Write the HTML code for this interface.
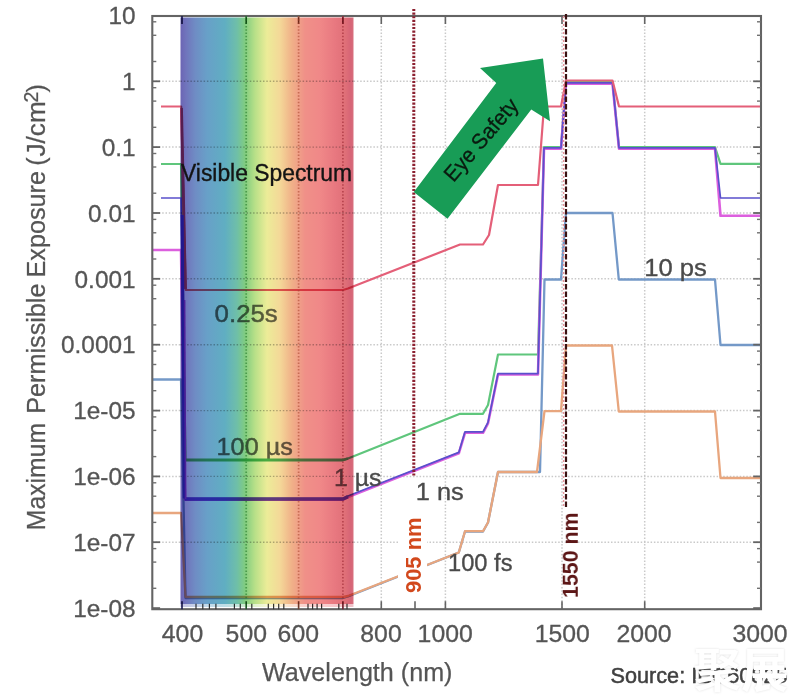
<!DOCTYPE html>
<html><head><meta charset="utf-8"><title>Maximum Permissible Exposure vs Wavelength</title>
<style>
html,body{margin:0;padding:0;background:#fff;}
body{width:800px;height:695px;overflow:hidden;font-family:"Liberation Sans","Noto Sans CJK SC",sans-serif;}
svg{display:block;}
text{font-family:"Liberation Sans","Noto Sans CJK SC",sans-serif;}
.tl{font-size:24.8px;fill:#555;stroke:#555;stroke-width:.3px;}
.lb{font-size:24.8px;fill:#4a4a4a;stroke:#4a4a4a;stroke-width:.35px;}
.lbs{font-size:24.8px;fill:#646464;stroke:#646464;stroke-width:.45px;}
.g0{filter:blur(0.45px);} .g1{filter:blur(0.7px);} .g2{filter:blur(0.45px);} .g3{filter:blur(0.7px);}
</style></head><body>
<svg width="800" height="695" viewBox="0 0 800 695">
<defs>
<linearGradient id="spec" x1="0" y1="0" x2="1" y2="0">

<stop offset="0.0000" stop-color="#6c64b4"/>
<stop offset="0.0318" stop-color="#7074bc"/>
<stop offset="0.0838" stop-color="#6f8cc4"/>
<stop offset="0.1532" stop-color="#68a0c8"/>
<stop offset="0.2572" stop-color="#60aec2"/>
<stop offset="0.3266" stop-color="#6fbfa8"/>
<stop offset="0.3728" stop-color="#80cc80"/>
<stop offset="0.4306" stop-color="#b8e088"/>
<stop offset="0.5000" stop-color="#ecec98"/>
<stop offset="0.5751" stop-color="#f4d898"/>
<stop offset="0.6445" stop-color="#f0b088"/>
<stop offset="0.7197" stop-color="#f09088"/>
<stop offset="0.8064" stop-color="#f08888"/>
<stop offset="0.8931" stop-color="#e87880"/>
<stop offset="0.9509" stop-color="#e07078"/>
<stop offset="0.9855" stop-color="#d66476"/>
<stop offset="1.0000" stop-color="#d8707e"/>
</linearGradient>
</defs>
<rect width="800" height="695" fill="#fff"/>
<g class="g0">
<line x1="246.2" y1="16" x2="246.2" y2="609.2" stroke="#c9c9c9" stroke-width="1.5" stroke-dasharray="1.5 1.8"/>
<line x1="298.6" y1="16" x2="298.6" y2="609.2" stroke="#c9c9c9" stroke-width="1.5" stroke-dasharray="1.5 1.8"/>
<line x1="342.9" y1="16" x2="342.9" y2="609.2" stroke="#c9c9c9" stroke-width="1.5" stroke-dasharray="1.5 1.8"/>
<line x1="381.3" y1="16" x2="381.3" y2="609.2" stroke="#c9c9c9" stroke-width="1.5" stroke-dasharray="1.5 1.8"/>
<line x1="445.4" y1="16" x2="445.4" y2="609.2" stroke="#c9c9c9" stroke-width="1.5" stroke-dasharray="1.5 1.8"/>
<line x1="562.0" y1="16" x2="562.0" y2="609.2" stroke="#c9c9c9" stroke-width="1.5" stroke-dasharray="1.5 1.8"/>
<line x1="644.7" y1="16" x2="644.7" y2="609.2" stroke="#c9c9c9" stroke-width="1.5" stroke-dasharray="1.5 1.8"/>
<line x1="152.3" y1="542.2" x2="761" y2="542.2" stroke="#c9c9c9" stroke-width="1.5" stroke-dasharray="1.5 1.8"/>
<line x1="152.3" y1="476.4" x2="761" y2="476.4" stroke="#c9c9c9" stroke-width="1.5" stroke-dasharray="1.5 1.8"/>
<line x1="152.3" y1="410.6" x2="761" y2="410.6" stroke="#c9c9c9" stroke-width="1.5" stroke-dasharray="1.5 1.8"/>
<line x1="152.3" y1="344.7" x2="761" y2="344.7" stroke="#c9c9c9" stroke-width="1.5" stroke-dasharray="1.5 1.8"/>
<line x1="152.3" y1="278.8" x2="761" y2="278.8" stroke="#c9c9c9" stroke-width="1.5" stroke-dasharray="1.5 1.8"/>
<line x1="152.3" y1="213.0" x2="761" y2="213.0" stroke="#c9c9c9" stroke-width="1.5" stroke-dasharray="1.5 1.8"/>
<line x1="152.3" y1="147.1" x2="761" y2="147.1" stroke="#c9c9c9" stroke-width="1.5" stroke-dasharray="1.5 1.8"/>
<line x1="152.3" y1="81.3" x2="761" y2="81.3" stroke="#c9c9c9" stroke-width="1.5" stroke-dasharray="1.5 1.8"/>
</g>
<g class="g1">
<polyline points="153.0,379.5 181.0,379.5 185.5,598.0 343.0,598.0 348.0,596.5 458.8,552.5 465.0,531.5 483.0,531.5 488.0,522.5 498.0,472.0 537.5,472.0 540.0,472.0 544.5,279.5 561.0,279.5 566.0,213.0 612.5,213.0 618.8,279.5 715.0,279.5 720.5,345.0 761.0,345.0" fill="none" stroke="#7499c8" stroke-width="2.3" stroke-linejoin="round" />
<polyline points="152.5,513.0 181.0,513.0 185.5,597.0 343.0,597.0 348.0,596.0 458.8,552.5 465.0,531.2 483.0,531.2 488.0,522.5 498.0,472.0 537.0,472.0 544.5,411.2 561.0,411.2 566.0,345.5 612.0,345.5 618.8,411.5 715.0,411.5 720.5,478.0 761.0,478.0" fill="none" stroke="#e8a67e" stroke-width="2.3" stroke-linejoin="round" />
<polyline points="161.0,164.0 181.0,164.0 185.5,460.0 343.0,460.0 348.0,458.5 460.0,413.8 483.0,413.8 488.0,405.0 498.0,354.5 538.0,354.5 544.0,147.0 561.0,147.0 566.0,81.6 612.5,81.6 619.0,147.0 715.0,147.0 720.5,163.8 761.0,163.8" fill="none" stroke="#5fc67c" stroke-width="2.2" stroke-linejoin="round" />
<polyline points="153.0,250.0 181.0,250.0 185.0,499.6 343.0,499.6 348.0,497.0 458.8,453.3 465.0,432.8 483.0,432.8 488.0,423.3 498.0,374.5 538.0,374.5 544.0,148.6 561.0,148.6 566.0,83.6 612.5,83.6 619.0,148.6 715.0,148.6 720.5,215.8 761.0,215.8" fill="none" stroke="#dc5fde" stroke-width="2.6" stroke-linejoin="round" />
<polyline points="161.0,198.0 181.0,198.0 185.0,498.6 343.0,498.6 348.0,496.0 458.8,452.4 465.0,431.8 483.0,431.8 488.0,422.4 498.0,373.6 538.0,373.6 544.0,147.8 561.0,147.8 566.0,82.8 612.5,82.8 619.0,147.8 715.0,147.8 720.5,198.0 761.0,198.0" fill="none" stroke="#5a50cc" stroke-width="1.7" stroke-linejoin="round" />
<polyline points="161.0,106.5 181.2,106.5 185.7,290.0 343.0,290.0 348.0,288.5 460.0,244.5 483.0,244.5 489.0,235.0 498.0,185.0 538.0,185.0 544.0,106.5 561.0,106.5 566.0,80.5 612.5,80.5 619.0,106.5 761.0,106.5" fill="none" stroke="#e45f78" stroke-width="2.2" stroke-linejoin="round" />
<rect x="152.3" y="16" width="608.7" height="593.2" fill="none" stroke="#646464" stroke-width="2.1"/>
<line x1="152.3" y1="608.1" x2="160.10000000000002" y2="608.1" stroke="#646464" stroke-width="1.8"/>
<line x1="761" y1="608.1" x2="753.2" y2="608.1" stroke="#646464" stroke-width="1.8"/>
<line x1="152.3" y1="542.2" x2="160.10000000000002" y2="542.2" stroke="#646464" stroke-width="1.8"/>
<line x1="761" y1="542.2" x2="753.2" y2="542.2" stroke="#646464" stroke-width="1.8"/>
<line x1="152.3" y1="588.3" x2="156.3" y2="588.3" stroke="#707070" stroke-width="1.4"/>
<line x1="761" y1="588.3" x2="757" y2="588.3" stroke="#707070" stroke-width="1.4"/>
<line x1="152.3" y1="562.1" x2="156.3" y2="562.1" stroke="#707070" stroke-width="1.4"/>
<line x1="761" y1="562.1" x2="757" y2="562.1" stroke="#707070" stroke-width="1.4"/>
<line x1="152.3" y1="548.6" x2="156.3" y2="548.6" stroke="#707070" stroke-width="1.4"/>
<line x1="761" y1="548.6" x2="757" y2="548.6" stroke="#707070" stroke-width="1.4"/>
<line x1="152.3" y1="476.4" x2="160.10000000000002" y2="476.4" stroke="#646464" stroke-width="1.8"/>
<line x1="761" y1="476.4" x2="753.2" y2="476.4" stroke="#646464" stroke-width="1.8"/>
<line x1="152.3" y1="522.4" x2="156.3" y2="522.4" stroke="#707070" stroke-width="1.4"/>
<line x1="761" y1="522.4" x2="757" y2="522.4" stroke="#707070" stroke-width="1.4"/>
<line x1="152.3" y1="496.2" x2="156.3" y2="496.2" stroke="#707070" stroke-width="1.4"/>
<line x1="761" y1="496.2" x2="757" y2="496.2" stroke="#707070" stroke-width="1.4"/>
<line x1="152.3" y1="482.8" x2="156.3" y2="482.8" stroke="#707070" stroke-width="1.4"/>
<line x1="761" y1="482.8" x2="757" y2="482.8" stroke="#707070" stroke-width="1.4"/>
<line x1="152.3" y1="410.6" x2="160.10000000000002" y2="410.6" stroke="#646464" stroke-width="1.8"/>
<line x1="761" y1="410.6" x2="753.2" y2="410.6" stroke="#646464" stroke-width="1.8"/>
<line x1="152.3" y1="456.6" x2="156.3" y2="456.6" stroke="#707070" stroke-width="1.4"/>
<line x1="761" y1="456.6" x2="757" y2="456.6" stroke="#707070" stroke-width="1.4"/>
<line x1="152.3" y1="430.4" x2="156.3" y2="430.4" stroke="#707070" stroke-width="1.4"/>
<line x1="761" y1="430.4" x2="757" y2="430.4" stroke="#707070" stroke-width="1.4"/>
<line x1="152.3" y1="416.9" x2="156.3" y2="416.9" stroke="#707070" stroke-width="1.4"/>
<line x1="761" y1="416.9" x2="757" y2="416.9" stroke="#707070" stroke-width="1.4"/>
<line x1="152.3" y1="344.7" x2="160.10000000000002" y2="344.7" stroke="#646464" stroke-width="1.8"/>
<line x1="761" y1="344.7" x2="753.2" y2="344.7" stroke="#646464" stroke-width="1.8"/>
<line x1="152.3" y1="390.7" x2="156.3" y2="390.7" stroke="#707070" stroke-width="1.4"/>
<line x1="761" y1="390.7" x2="757" y2="390.7" stroke="#707070" stroke-width="1.4"/>
<line x1="152.3" y1="364.5" x2="156.3" y2="364.5" stroke="#707070" stroke-width="1.4"/>
<line x1="761" y1="364.5" x2="757" y2="364.5" stroke="#707070" stroke-width="1.4"/>
<line x1="152.3" y1="351.1" x2="156.3" y2="351.1" stroke="#707070" stroke-width="1.4"/>
<line x1="761" y1="351.1" x2="757" y2="351.1" stroke="#707070" stroke-width="1.4"/>
<line x1="152.3" y1="278.8" x2="160.10000000000002" y2="278.8" stroke="#646464" stroke-width="1.8"/>
<line x1="761" y1="278.8" x2="753.2" y2="278.8" stroke="#646464" stroke-width="1.8"/>
<line x1="152.3" y1="324.9" x2="156.3" y2="324.9" stroke="#707070" stroke-width="1.4"/>
<line x1="761" y1="324.9" x2="757" y2="324.9" stroke="#707070" stroke-width="1.4"/>
<line x1="152.3" y1="298.7" x2="156.3" y2="298.7" stroke="#707070" stroke-width="1.4"/>
<line x1="761" y1="298.7" x2="757" y2="298.7" stroke="#707070" stroke-width="1.4"/>
<line x1="152.3" y1="285.2" x2="156.3" y2="285.2" stroke="#707070" stroke-width="1.4"/>
<line x1="761" y1="285.2" x2="757" y2="285.2" stroke="#707070" stroke-width="1.4"/>
<line x1="152.3" y1="213.0" x2="160.10000000000002" y2="213.0" stroke="#646464" stroke-width="1.8"/>
<line x1="761" y1="213.0" x2="753.2" y2="213.0" stroke="#646464" stroke-width="1.8"/>
<line x1="152.3" y1="259.0" x2="156.3" y2="259.0" stroke="#707070" stroke-width="1.4"/>
<line x1="761" y1="259.0" x2="757" y2="259.0" stroke="#707070" stroke-width="1.4"/>
<line x1="152.3" y1="232.8" x2="156.3" y2="232.8" stroke="#707070" stroke-width="1.4"/>
<line x1="761" y1="232.8" x2="757" y2="232.8" stroke="#707070" stroke-width="1.4"/>
<line x1="152.3" y1="219.4" x2="156.3" y2="219.4" stroke="#707070" stroke-width="1.4"/>
<line x1="761" y1="219.4" x2="757" y2="219.4" stroke="#707070" stroke-width="1.4"/>
<line x1="152.3" y1="147.1" x2="160.10000000000002" y2="147.1" stroke="#646464" stroke-width="1.8"/>
<line x1="761" y1="147.1" x2="753.2" y2="147.1" stroke="#646464" stroke-width="1.8"/>
<line x1="152.3" y1="193.2" x2="156.3" y2="193.2" stroke="#707070" stroke-width="1.4"/>
<line x1="761" y1="193.2" x2="757" y2="193.2" stroke="#707070" stroke-width="1.4"/>
<line x1="152.3" y1="167.0" x2="156.3" y2="167.0" stroke="#707070" stroke-width="1.4"/>
<line x1="761" y1="167.0" x2="757" y2="167.0" stroke="#707070" stroke-width="1.4"/>
<line x1="152.3" y1="153.5" x2="156.3" y2="153.5" stroke="#707070" stroke-width="1.4"/>
<line x1="761" y1="153.5" x2="757" y2="153.5" stroke="#707070" stroke-width="1.4"/>
<line x1="152.3" y1="81.3" x2="160.10000000000002" y2="81.3" stroke="#646464" stroke-width="1.8"/>
<line x1="761" y1="81.3" x2="753.2" y2="81.3" stroke="#646464" stroke-width="1.8"/>
<line x1="152.3" y1="127.3" x2="156.3" y2="127.3" stroke="#707070" stroke-width="1.4"/>
<line x1="761" y1="127.3" x2="757" y2="127.3" stroke="#707070" stroke-width="1.4"/>
<line x1="152.3" y1="101.1" x2="156.3" y2="101.1" stroke="#707070" stroke-width="1.4"/>
<line x1="761" y1="101.1" x2="757" y2="101.1" stroke="#707070" stroke-width="1.4"/>
<line x1="152.3" y1="87.7" x2="156.3" y2="87.7" stroke="#707070" stroke-width="1.4"/>
<line x1="761" y1="87.7" x2="757" y2="87.7" stroke="#707070" stroke-width="1.4"/>
<line x1="152.3" y1="61.5" x2="156.3" y2="61.5" stroke="#707070" stroke-width="1.4"/>
<line x1="761" y1="61.5" x2="757" y2="61.5" stroke="#707070" stroke-width="1.4"/>
<line x1="152.3" y1="35.3" x2="156.3" y2="35.3" stroke="#707070" stroke-width="1.4"/>
<line x1="761" y1="35.3" x2="757" y2="35.3" stroke="#707070" stroke-width="1.4"/>
<line x1="152.3" y1="21.8" x2="156.3" y2="21.8" stroke="#707070" stroke-width="1.4"/>
<line x1="761" y1="21.8" x2="757" y2="21.8" stroke="#707070" stroke-width="1.4"/>
<line x1="182.0" y1="609.2" x2="182.0" y2="601.2" stroke="#1a1a50" stroke-width="1.6"/>
<line x1="182.0" y1="16" x2="182.0" y2="24" stroke="#1a1a50" stroke-width="1.6"/>
<line x1="246.2" y1="609.2" x2="246.2" y2="601.2" stroke="#205a28" stroke-width="1.6"/>
<line x1="246.2" y1="16" x2="246.2" y2="24" stroke="#205a28" stroke-width="1.6"/>
<line x1="298.6" y1="609.2" x2="298.6" y2="601.2" stroke="#704030" stroke-width="1.6"/>
<line x1="298.6" y1="16" x2="298.6" y2="24" stroke="#704030" stroke-width="1.6"/>
<line x1="342.9" y1="609.2" x2="342.9" y2="601.2" stroke="#702030" stroke-width="1.6"/>
<line x1="342.9" y1="16" x2="342.9" y2="24" stroke="#702030" stroke-width="1.6"/>
<line x1="381.3" y1="609.2" x2="381.3" y2="601.2" stroke="#646464" stroke-width="1.6"/>
<line x1="381.3" y1="16" x2="381.3" y2="24" stroke="#646464" stroke-width="1.6"/>
<line x1="445.4" y1="609.2" x2="445.4" y2="601.2" stroke="#646464" stroke-width="1.6"/>
<line x1="445.4" y1="16" x2="445.4" y2="24" stroke="#646464" stroke-width="1.6"/>
<line x1="562.0" y1="609.2" x2="562.0" y2="601.2" stroke="#646464" stroke-width="1.6"/>
<line x1="562.0" y1="16" x2="562.0" y2="24" stroke="#646464" stroke-width="1.6"/>
<line x1="644.7" y1="609.2" x2="644.7" y2="601.2" stroke="#646464" stroke-width="1.6"/>
<line x1="644.7" y1="16" x2="644.7" y2="24" stroke="#646464" stroke-width="1.6"/>
<line x1="415" y1="609.2" x2="415" y2="601.2" stroke="#646464" stroke-width="1.6"/>
<line x1="196.0" y1="609.2" x2="196.0" y2="603.7" stroke="#333" stroke-width="1.2"/>
<line x1="202.8" y1="609.2" x2="202.8" y2="603.7" stroke="#333" stroke-width="1.2"/>
<line x1="209.4" y1="609.2" x2="209.4" y2="603.7" stroke="#333" stroke-width="1.2"/>
<line x1="215.9" y1="609.2" x2="215.9" y2="603.7" stroke="#333" stroke-width="1.2"/>
<line x1="234.4" y1="609.2" x2="234.4" y2="603.7" stroke="#333" stroke-width="1.2"/>
<line x1="240.3" y1="609.2" x2="240.3" y2="603.7" stroke="#333" stroke-width="1.2"/>
<line x1="251.8" y1="609.2" x2="251.8" y2="603.7" stroke="#333" stroke-width="1.2"/>
<line x1="268.3" y1="609.2" x2="268.3" y2="603.7" stroke="#333" stroke-width="1.2"/>
<line x1="273.6" y1="609.2" x2="273.6" y2="603.7" stroke="#333" stroke-width="1.2"/>
<line x1="278.7" y1="609.2" x2="278.7" y2="603.7" stroke="#333" stroke-width="1.2"/>
<line x1="283.8" y1="609.2" x2="283.8" y2="603.7" stroke="#333" stroke-width="1.2"/>
<line x1="308.0" y1="609.2" x2="308.0" y2="603.7" stroke="#333" stroke-width="1.2"/>
<line x1="312.6" y1="609.2" x2="312.6" y2="603.7" stroke="#333" stroke-width="1.2"/>
<line x1="317.1" y1="609.2" x2="317.1" y2="603.7" stroke="#333" stroke-width="1.2"/>
<line x1="321.6" y1="609.2" x2="321.6" y2="603.7" stroke="#333" stroke-width="1.2"/>
<line x1="338.8" y1="609.2" x2="338.8" y2="603.7" stroke="#333" stroke-width="1.2"/>
<line x1="347.0" y1="609.2" x2="347.0" y2="603.7" stroke="#333" stroke-width="1.2"/>
<text class="tl" style="font-size:24.4px" x="135.6" y="24.2" text-anchor="end">10</text>
<text class="tl" style="font-size:24.4px" x="135.6" y="90.0" text-anchor="end">1</text>
<text class="tl" style="font-size:24.4px" x="135.6" y="155.8" text-anchor="end">0.1</text>
<text class="tl" style="font-size:24.4px" x="135.6" y="221.7" text-anchor="end">0.01</text>
<text class="tl" style="font-size:24.4px" x="135.6" y="287.5" text-anchor="end">0.001</text>
<text class="tl" style="font-size:24.4px" x="135.6" y="353.4" text-anchor="end">0.0001</text>
<text class="tl" style="font-size:24.4px" x="135.6" y="419.2" text-anchor="end">1e-05</text>
<text class="tl" style="font-size:24.4px" x="135.6" y="485.1" text-anchor="end">1e-06</text>
<text class="tl" style="font-size:24.4px" x="135.6" y="550.9" text-anchor="end">1e-07</text>
<text class="tl" style="font-size:24.4px" x="135.6" y="616.8" text-anchor="end">1e-08</text>
<text class="tl" x="182.5" y="642.3" text-anchor="middle">400</text>
<text class="tl" x="246.3" y="642.3" text-anchor="middle">500</text>
<text class="tl" x="298.3" y="642.3" text-anchor="middle">600</text>
<text class="tl" x="381" y="642.3" text-anchor="middle">800</text>
<text class="tl" x="445.2" y="642.3" text-anchor="middle">1000</text>
<text class="tl" x="562.3" y="642.3" text-anchor="middle">1500</text>
<text class="tl" x="644" y="642.3" text-anchor="middle">2000</text>
<text class="tl" x="760" y="642.3" text-anchor="middle">3000</text>
<text x="262" y="681" font-size="25.2" fill="#555" stroke="#555" stroke-width=".25" textLength="190.5" lengthAdjust="spacingAndGlyphs">Wavelength (nm)</text>
<text transform="translate(45.2,530.2) rotate(-90)" font-size="25" fill="#555" stroke="#555" stroke-width=".25" textLength="107.3" lengthAdjust="spacingAndGlyphs">Maximum</text>
<text transform="translate(45.2,413.8) rotate(-90)" font-size="25" fill="#555" stroke="#555" stroke-width=".25" textLength="130.3" lengthAdjust="spacingAndGlyphs">Permissible</text>
<text transform="translate(45.2,277.5) rotate(-90)" font-size="25" fill="#555" stroke="#555" stroke-width=".25" textLength="106.5" lengthAdjust="spacingAndGlyphs">Exposure</text>
<text transform="translate(45.2,165.8) rotate(-90)" font-size="25" fill="#555" stroke="#555" stroke-width=".25">(</text>
<text transform="translate(45.2,156.5) rotate(-90)" font-size="25" fill="#555" stroke="#555" stroke-width=".25" textLength="55.2" lengthAdjust="spacingAndGlyphs">J/cm</text>
<text transform="translate(38.0,102.6) rotate(-90)" font-size="19.5" fill="#555" stroke="#555" stroke-width=".25">2</text>
<text transform="translate(45.2,92.6) rotate(-90)" font-size="25" fill="#555" stroke="#555" stroke-width=".25">)</text>
<text class="lbs" x="214.6" y="322.3" textLength="63.2" lengthAdjust="spacingAndGlyphs">0.25s</text>
<text class="lbs" x="216.6" y="455.2" textLength="76.2" lengthAdjust="spacingAndGlyphs">100 µs</text>
<text class="lbs" x="334" y="486">1</text>
<text class="lb" x="354.7" y="486">µs</text>
<text class="lb" x="415.8" y="500.3" textLength="48" lengthAdjust="spacingAndGlyphs">1 ns</text>
<text class="lb" x="448" y="571" textLength="64.5" lengthAdjust="spacingAndGlyphs">100 fs</text>
<text class="lb" x="644.3" y="275.8" textLength="62.6" lengthAdjust="spacingAndGlyphs">10 ps</text>
<line x1="246.2" y1="16" x2="246.2" y2="600" stroke="#2a8a3a" stroke-opacity=".55" stroke-width="1.7" stroke-dasharray="1.5 1.8"/>
<line x1="298.6" y1="16" x2="298.6" y2="600" stroke="#b0684a" stroke-opacity=".55" stroke-width="1.7" stroke-dasharray="1.5 1.8"/>
<line x1="342.9" y1="16" x2="342.9" y2="600" stroke="#a84456" stroke-opacity=".55" stroke-width="1.7" stroke-dasharray="1.5 1.8"/>
<line x1="180.5" y1="542.2" x2="353.5" y2="542.2" stroke="#000" stroke-opacity=".28" stroke-width="1.4" stroke-dasharray="1.5 1.8"/>
<line x1="180.5" y1="476.4" x2="353.5" y2="476.4" stroke="#000" stroke-opacity=".28" stroke-width="1.4" stroke-dasharray="1.5 1.8"/>
<line x1="180.5" y1="410.6" x2="353.5" y2="410.6" stroke="#000" stroke-opacity=".28" stroke-width="1.4" stroke-dasharray="1.5 1.8"/>
<line x1="180.5" y1="344.7" x2="353.5" y2="344.7" stroke="#000" stroke-opacity=".28" stroke-width="1.4" stroke-dasharray="1.5 1.8"/>
<line x1="180.5" y1="278.8" x2="353.5" y2="278.8" stroke="#000" stroke-opacity=".28" stroke-width="1.4" stroke-dasharray="1.5 1.8"/>
<line x1="180.5" y1="213.0" x2="353.5" y2="213.0" stroke="#000" stroke-opacity=".28" stroke-width="1.4" stroke-dasharray="1.5 1.8"/>
<line x1="180.5" y1="147.1" x2="353.5" y2="147.1" stroke="#000" stroke-opacity=".28" stroke-width="1.4" stroke-dasharray="1.5 1.8"/>
<line x1="180.5" y1="81.3" x2="353.5" y2="81.3" stroke="#000" stroke-opacity=".28" stroke-width="1.4" stroke-dasharray="1.5 1.8"/>
<polyline points="181.5,108 185.5,289" fill="none" stroke="#c8456e" stroke-width="2.8"/>
<polyline points="182.2,215 184.3,498.5" fill="none" stroke="#4a38c8" stroke-width="3"/>
<polyline points="184.5,499 343,499 348,496.6" fill="none" stroke="#6440d0" stroke-width="3.4" stroke-linejoin="round"/>
<polyline points="185.5,460 343,460 348,458.5" fill="none" stroke="#4fb86c" stroke-width="2.8" stroke-linejoin="round"/>
<polyline points="184.6,300 185.6,499" fill="none" stroke="#b048d0" stroke-width="1.6"/>
<rect x="180.5" y="17.5" width="173.0" height="586.5" fill="url(#spec)" style="mix-blend-mode:multiply"/>
<rect x="180.5" y="604" width="173.0" height="3" fill="url(#spec)" fill-opacity=".4" style="mix-blend-mode:multiply"/>
<text x="181" y="180.5" font-size="23" fill="#141414" stroke="#141414" stroke-width=".35" textLength="171" lengthAdjust="spacingAndGlyphs">Visible Spectrum</text>
</g>
<g class="g2">
<line x1="413.8" y1="9" x2="413.8" y2="476" stroke="#8c2030" stroke-width="3" stroke-dasharray="2.1 1.5"/>
<line x1="563.6" y1="16" x2="563.6" y2="507" stroke="#e89098" stroke-width="1.4" stroke-dasharray="2 2"/>
<line x1="566" y1="14" x2="566" y2="508" stroke="#3a1212" stroke-width="2.2" stroke-dasharray="5.5 2"/>
</g>
<g class="g3">
<polygon points="543,58.5 480,68 496.25,83 413.75,192 447.5,218.75 531.25,109.5 550,121.25" fill="#189c56"/>
<text x="0" y="0" transform="translate(486.5,144.5) rotate(-49.5)" text-anchor="middle" font-size="21.5" fill="#0a1a0f" stroke="#0a1a0f" stroke-width=".3" textLength="101.5" lengthAdjust="spacingAndGlyphs">Eye Safety</text>
<rect x="398" y="512" width="29" height="86" fill="#fff"/>
<text transform="translate(421.2,593) rotate(-90)" font-size="22" font-weight="bold" fill="#d2481c" textLength="75.5" lengthAdjust="spacingAndGlyphs">905 nm</text>
<text transform="translate(577.8,598) rotate(-90)" font-size="22" font-weight="bold" fill="#5c1616" textLength="85.5" lengthAdjust="spacingAndGlyphs">1550 nm</text>
<text x="610.5" y="683" font-size="22" textLength="177" lengthAdjust="spacingAndGlyphs" fill="#404040" stroke="#404040" stroke-width=".5">Source: IEC60825</text>
<text x="693.5" y="687" font-size="47" font-weight="bold" fill="#fff" style="filter:drop-shadow(0 0 1px rgba(110,110,110,.22))" textLength="95" lengthAdjust="spacingAndGlyphs">聚展</text>
</g>
</svg></body></html>
